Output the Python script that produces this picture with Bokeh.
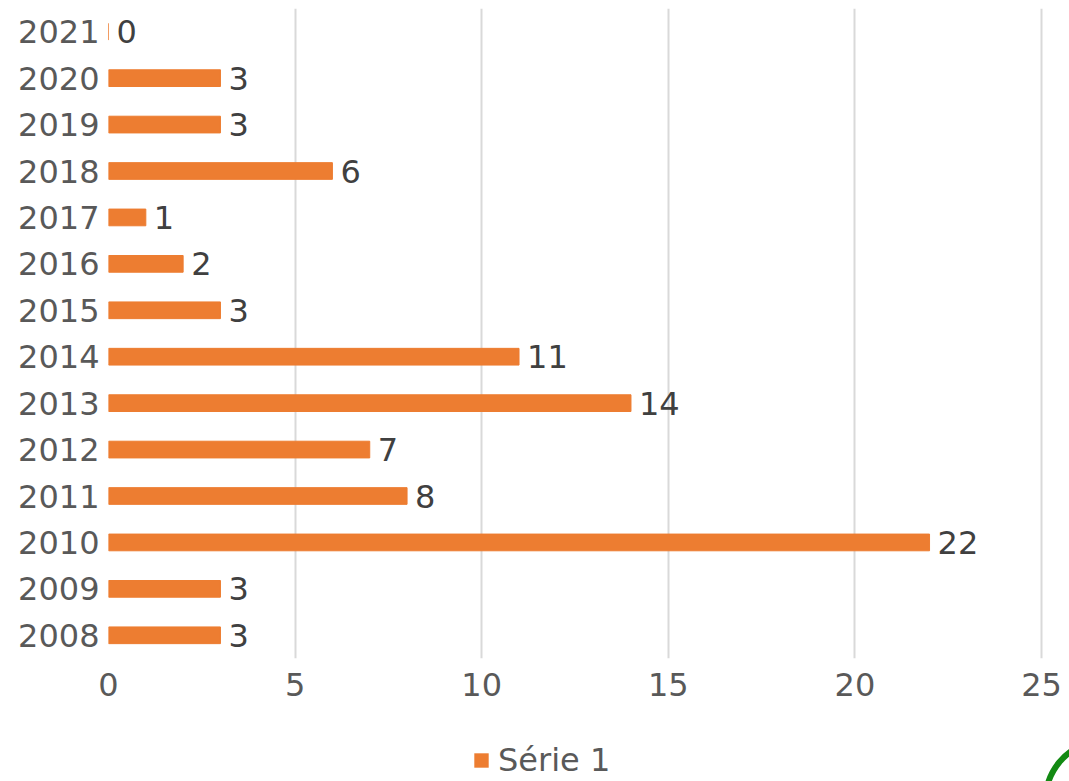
from bokeh.plotting import figure
from bokeh.layouts import column
from bokeh.models import ColumnDataSource, LabelSet, Legend, LegendItem, Range1d
from bokeh.core.properties import value
from bokeh.embed import file_html
from bokeh.resources import INLINE

years = ["2008", "2009", "2010", "2011", "2012", "2013", "2014",
         "2015", "2016", "2017", "2018", "2019", "2020", "2021"]
values = [3, 3, 22, 8, 7, 14, 11, 3, 2, 1, 6, 3, 3, 0]
x_ticks = [0, 5, 10, 15, 20, 25]
series_name = "Série 1"

FONT = "DejaVu Sans"
BAR = "#ED7D31"
src = ColumnDataSource(dict(year=years, value=values,
                            label=[str(v) for v in values]))

# frame spans page x 108..1069; axis value 25 sits at x 1041
x_end = 25 * (1069 - 108) / (1041 - 108)

p = figure(width=1069, height=712, y_range=years, x_range=Range1d(0, x_end),
           output_backend="svg", toolbar_location=None,
           min_border_left=108, min_border_right=0, min_border_top=8,
           min_border_bottom=54)
p.outline_line_color = None
p.background_fill_color = "white"

r = p.hbar(y="year", right="value", left=0, height=0.36, source=src,
           fill_color=BAR, line_color=BAR, line_width=1)

labels = LabelSet(x="value", y="year", text="label", source=src,
                  x_offset=8, text_baseline="middle", text_align="left",
                  text_font_size="32px", text_color="#404040",
                  text_font=value(FONT))
p.add_layout(labels)

p.xaxis.ticker = x_ticks
p.xaxis.axis_line_color = None
p.xaxis.major_tick_line_color = None
p.xaxis.minor_tick_line_color = None
p.xaxis.major_label_text_font_size = "32px"
p.xaxis.major_label_text_color = "#595959"
p.xaxis.major_label_text_font = FONT
p.xaxis.major_label_standoff = 8

p.yaxis.axis_line_color = None
p.yaxis.major_tick_line_color = None
p.yaxis.minor_tick_line_color = None
p.yaxis.major_label_text_font_size = "32px"
p.yaxis.major_label_text_color = "#595959"
p.yaxis.major_label_text_font = FONT
p.yaxis.major_label_standoff = 3

p.ygrid.grid_line_color = None
p.xgrid.grid_line_color = "#d9d9d9"
p.xgrid.grid_line_width = 2

# legend strip (separate figure so the legend is not clipped);
# its frame is aligned with the main frame (page x 108..1069)
q = figure(width=1069, height=69, x_range=Range1d(108, 1069), y_range=Range1d(0, 69),
           output_backend="svg", toolbar_location=None,
           x_axis_location=None, y_axis_location=None,
           min_border_left=108, min_border_right=0, min_border_top=0,
           min_border_bottom=0)
q.grid.grid_line_color = None
q.outline_line_color = None
dummy = q.quad(left=[-100], right=[-90], bottom=[-100], top=[-90],
               fill_color=BAR, line_color=None)
# decorative green arc of a logo, cut at the corner
q.arc(x=[1105], y=[-19], radius=60, start_angle=1.9, end_angle=3.0,
      line_color="#138a13", line_width=6)

legend = Legend(items=[LegendItem(label=series_name, renderers=[dummy])],
                orientation="horizontal", location=(364, 2),
                label_text_font_size="32px", label_text_color="#595959",
                label_text_font=FONT, glyph_width=18, glyph_height=18,
                border_line_color=None, background_fill_alpha=0,
                padding=0, margin=0, spacing=0, label_standoff=8)
q.add_layout(legend, "center")

open("out.html", "w").write(file_html(column(p, q, spacing=0), INLINE))
